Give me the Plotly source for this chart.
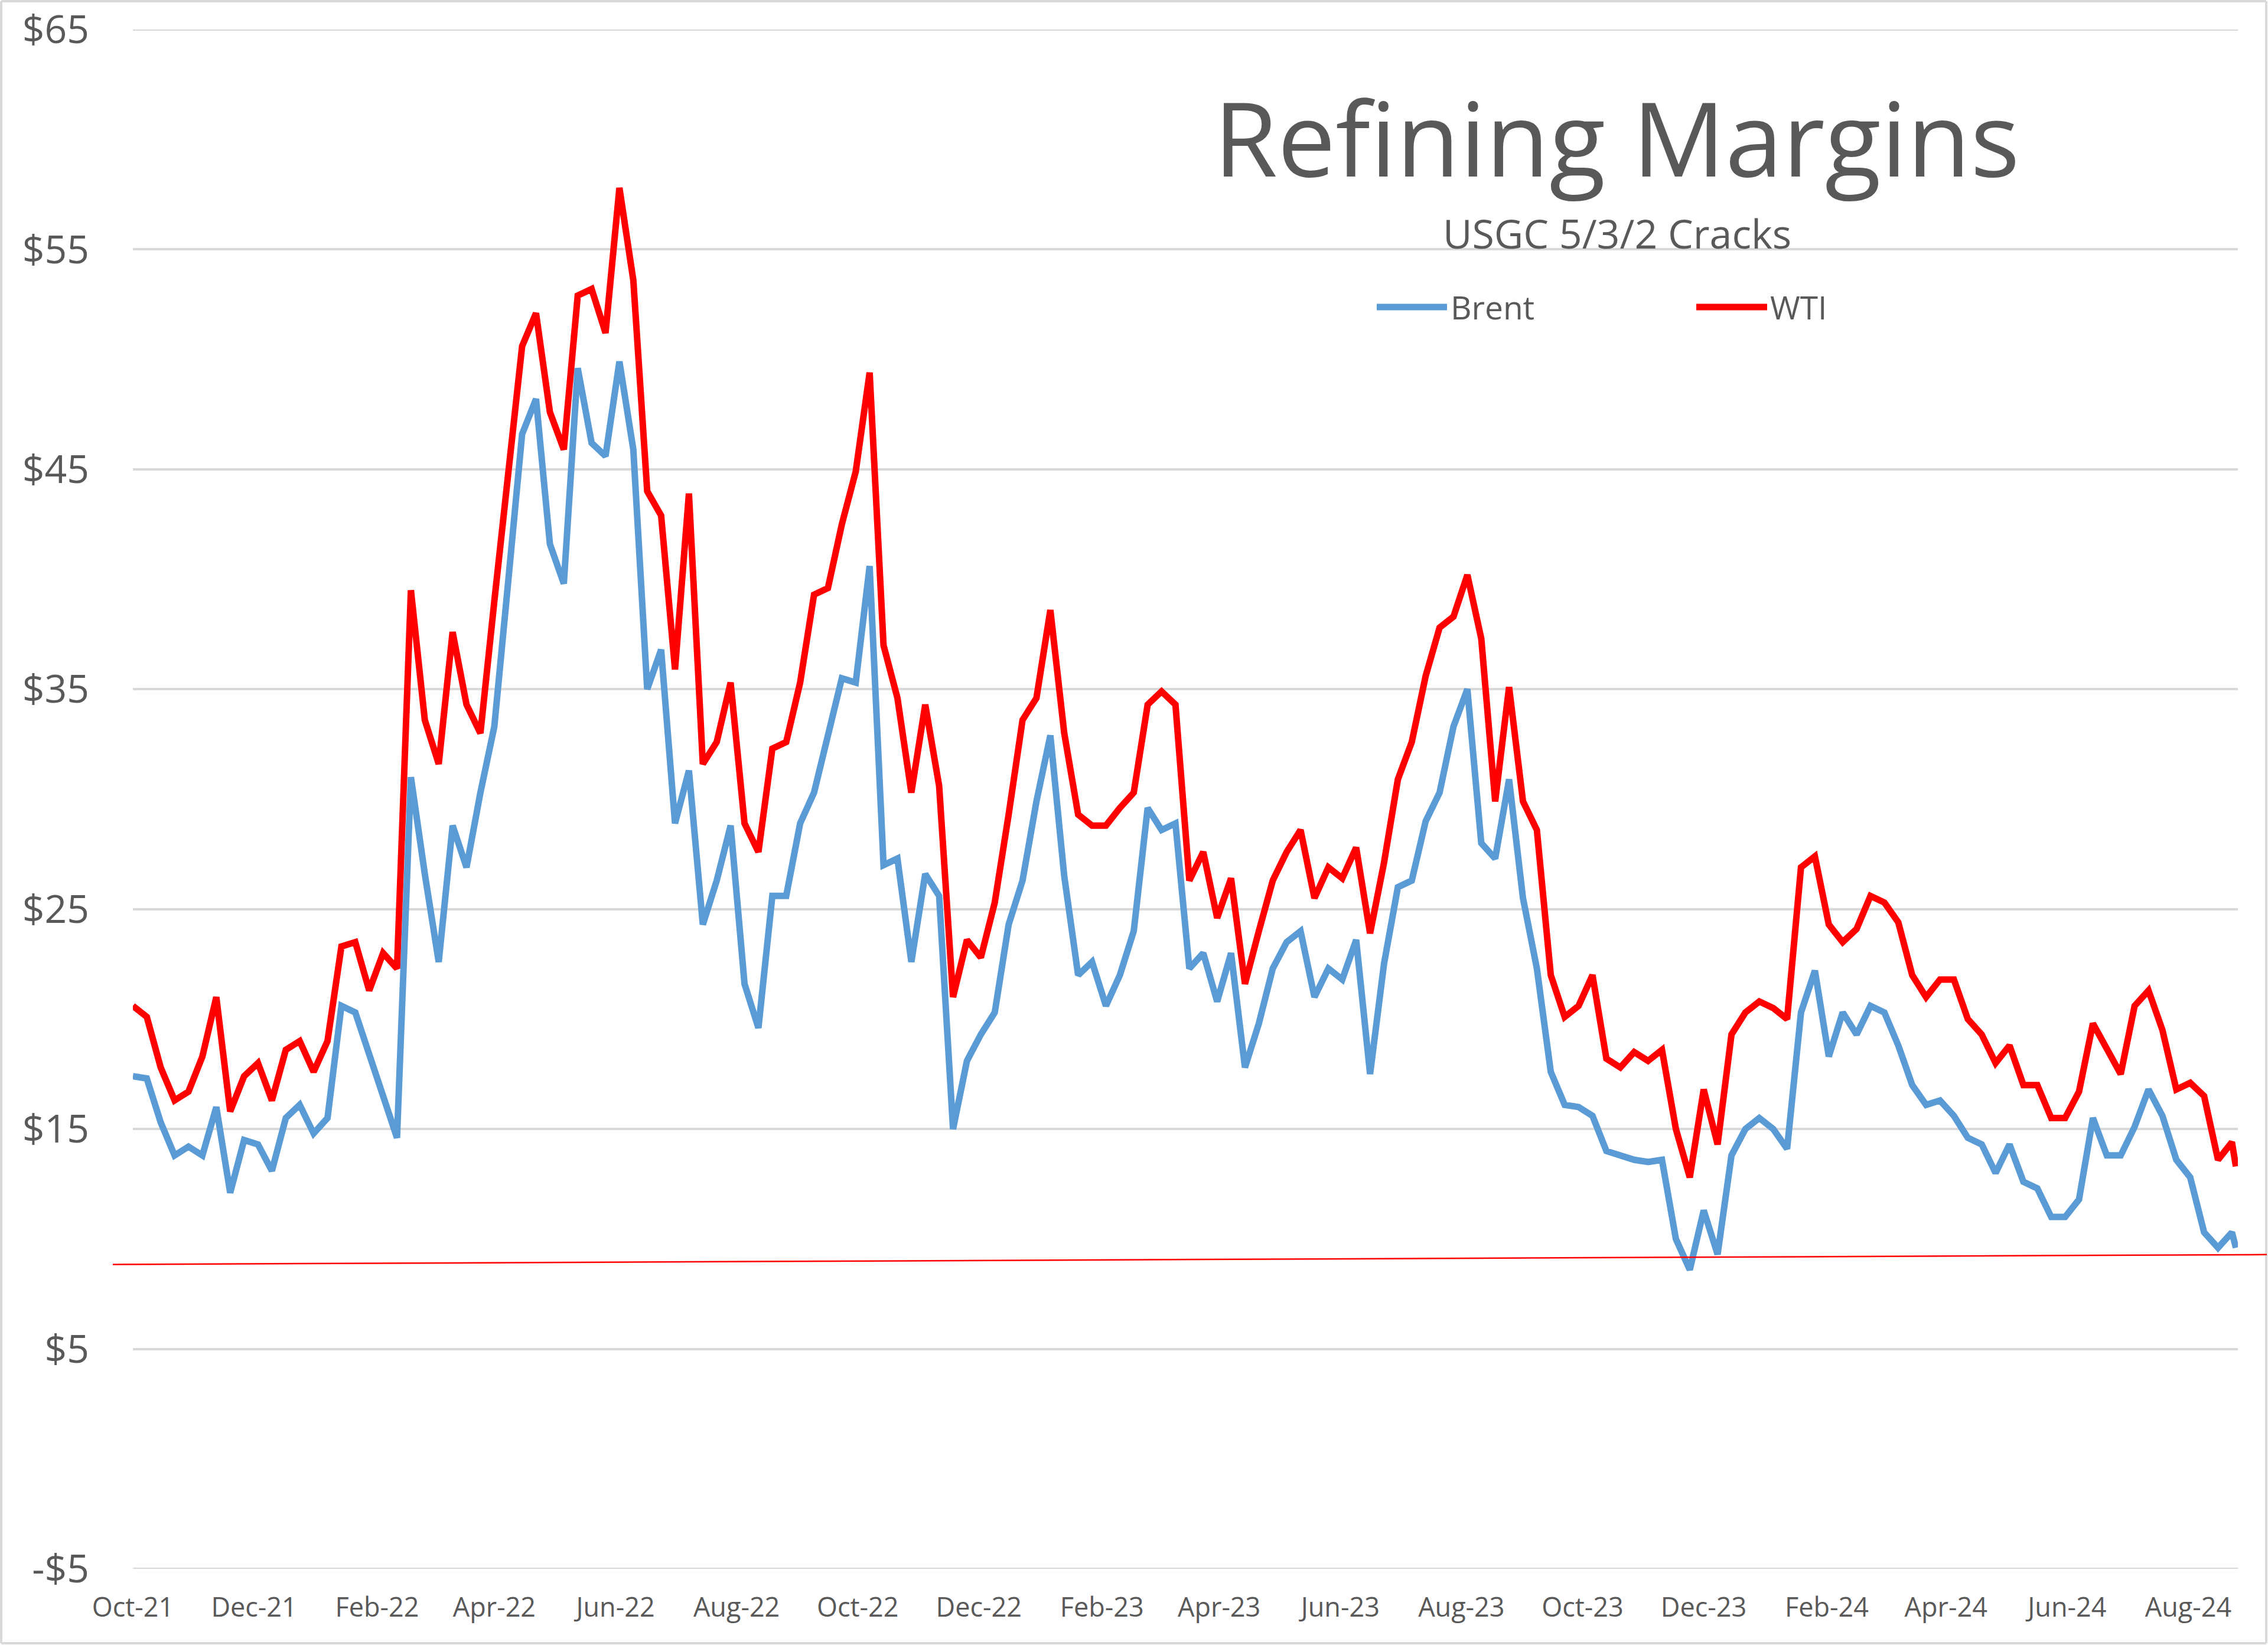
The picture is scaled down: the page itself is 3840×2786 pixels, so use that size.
import plotly.graph_objects as go

dates = [
    "2021-10-01", "2021-10-08", "2021-10-15", "2021-10-22", "2021-10-29",
    "2021-11-05", "2021-11-12", "2021-11-19", "2021-11-26",
    "2021-12-03", "2021-12-10", "2021-12-17", "2021-12-24", "2021-12-31",
    "2022-01-07", "2022-01-14", "2022-01-21", "2022-01-28",
    "2022-02-04", "2022-02-11", "2022-02-18", "2022-02-25",
    "2022-03-04", "2022-03-11", "2022-03-18", "2022-03-25",
    "2022-04-01", "2022-04-08", "2022-04-15", "2022-04-22", "2022-04-29",
    "2022-05-06", "2022-05-13", "2022-05-20", "2022-05-27",
    "2022-06-03", "2022-06-10", "2022-06-17", "2022-06-24",
    "2022-07-01", "2022-07-08", "2022-07-15", "2022-07-22", "2022-07-29",
    "2022-08-05", "2022-08-12", "2022-08-19", "2022-08-26",
    "2022-09-02", "2022-09-09", "2022-09-16", "2022-09-23", "2022-09-30",
    "2022-10-07", "2022-10-14", "2022-10-21", "2022-10-28",
    "2022-11-04", "2022-11-11", "2022-11-18", "2022-11-25",
    "2022-12-02", "2022-12-09", "2022-12-16", "2022-12-23", "2022-12-30",
    "2023-01-06", "2023-01-13", "2023-01-20", "2023-01-27",
    "2023-02-03", "2023-02-10", "2023-02-17", "2023-02-24",
    "2023-03-03", "2023-03-10", "2023-03-17", "2023-03-24", "2023-03-31",
    "2023-04-07", "2023-04-14", "2023-04-21", "2023-04-28",
    "2023-05-05", "2023-05-12", "2023-05-19", "2023-05-26",
    "2023-06-02", "2023-06-09", "2023-06-16", "2023-06-23", "2023-06-30",
    "2023-07-07", "2023-07-14", "2023-07-21", "2023-07-28",
    "2023-08-04", "2023-08-11", "2023-08-18", "2023-08-25",
    "2023-09-01", "2023-09-08", "2023-09-15", "2023-09-22", "2023-09-29",
    "2023-10-06", "2023-10-13", "2023-10-20", "2023-10-27",
    "2023-11-03", "2023-11-10", "2023-11-17", "2023-11-24",
    "2023-12-01", "2023-12-08", "2023-12-15", "2023-12-22", "2023-12-29",
    "2024-01-05", "2024-01-12", "2024-01-19", "2024-01-26",
    "2024-02-02", "2024-02-09", "2024-02-16", "2024-02-23",
    "2024-03-01", "2024-03-08", "2024-03-15", "2024-03-22", "2024-03-29",
    "2024-04-05", "2024-04-12", "2024-04-19", "2024-04-26",
    "2024-05-03", "2024-05-10", "2024-05-17", "2024-05-24", "2024-05-31",
    "2024-06-07", "2024-06-14", "2024-06-21", "2024-06-28",
    "2024-07-05", "2024-07-12", "2024-07-19", "2024-07-26",
    "2024-08-02", "2024-08-09", "2024-08-16", "2024-08-23", "2024-08-25",
]

brent = [
    17.4, 17.3, 15.3, 13.8, 14.2,
    13.8, 16.0, 12.1, 14.5,
    14.3, 13.1, 15.5, 16.1, 14.8,
    15.5, 20.6, 20.3, 18.3,
    16.5, 14.6, 31.0, 26.6,
    22.6, 28.8, 26.9, 30.3,
    33.3, 39.9, 46.6, 48.2, 41.6,
    39.8, 49.6, 46.2, 45.6,
    49.9, 45.9, 35.0, 36.8,
    28.9, 31.3, 24.3, 26.3, 28.8,
    21.6, 19.6, 25.6, 25.6,
    28.9, 30.3, 33.0, 35.5, 35.3,
    40.6, 27.0, 27.3, 22.6,
    26.6, 25.6, 15.0, 18.1,
    19.3, 20.3, 24.3, 26.3, 29.9,
    32.9, 26.5, 22.0, 22.6,
    20.6, 22.0, 24.0, 29.6,
    28.6, 28.9, 22.3, 23.0, 20.8,
    23.0, 17.8, 19.8, 22.3,
    23.5, 24.0, 21.0, 22.3,
    21.8, 23.6, 17.5, 22.5, 26.0,
    26.3, 29.0, 30.3, 33.3,
    35.0, 28.0, 27.3, 30.9,
    25.5, 22.3, 17.6, 16.1, 16.0,
    15.6, 14.0, 13.8, 13.6,
    13.5, 13.6, 10.0, 8.6,
    11.3, 9.3, 13.8, 15.0, 15.5,
    15.0, 14.1, 20.3, 22.2,
    18.3, 20.3, 19.3, 20.6,
    20.3, 18.8, 17.0, 16.1, 16.3,
    15.6, 14.6, 14.3, 13.0,
    14.3, 12.6, 12.3, 11.0, 11.0,
    11.8, 15.5, 13.8, 13.8,
    15.1, 16.8, 15.6, 13.6,
    12.8, 10.3, 9.6, 10.3, 9.6,
]

wti = [
    20.6, 20.1, 17.8, 16.3, 16.7,
    18.3, 21.0, 15.8, 17.4,
    18.0, 16.3, 18.6, 19.0, 17.6,
    19.0, 23.3, 23.5, 21.3,
    23.0, 22.3, 39.5, 33.6,
    31.6, 37.6, 34.3, 33.0,
    39.0, 44.6, 50.6, 52.1, 47.6,
    45.9, 52.9, 53.2, 51.2,
    57.8, 53.6, 44.0, 42.9,
    35.9, 43.9, 31.6, 32.6, 35.3,
    28.9, 27.6, 32.3, 32.6,
    35.3, 39.3, 39.6, 42.5, 44.9,
    49.4, 37.0, 34.6, 30.3,
    34.3, 30.6, 21.0, 23.6,
    22.8, 25.3, 29.3, 33.6, 34.6,
    38.6, 33.0, 29.3, 28.8,
    28.8, 29.6, 30.3, 34.3,
    34.9, 34.3, 26.3, 27.6, 24.6,
    26.4, 21.6, 24.0, 26.3,
    27.6, 28.6, 25.5, 26.9,
    26.4, 27.8, 23.9, 27.1, 30.9,
    32.6, 35.6, 37.8, 38.3,
    40.2, 37.3, 29.9, 35.1,
    29.9, 28.6, 22.0, 20.1, 20.6,
    22.0, 18.2, 17.8, 18.5,
    18.1, 18.6, 15.0, 12.8,
    16.8, 14.3, 19.3, 20.3, 20.8,
    20.5, 20.0, 26.9, 27.4,
    24.3, 23.5, 24.1, 25.6,
    25.3, 24.4, 22.0, 21.0, 21.8,
    21.8, 20.0, 19.3, 18.0,
    18.8, 17.0, 17.0, 15.5, 15.5,
    16.7, 19.8, 18.6, 17.5,
    20.6, 21.3, 19.5, 16.8,
    17.1, 16.5, 13.6, 14.4, 13.3,
]

y_tick_vals = [-5, 5, 15, 25, 35, 45, 55, 65]
y_tick_text = ["-$5", "$5", "$15", "$25", "$35", "$45", "$55", "$65"]

trend_start = 8.84
trend_end = 9.29

TEXT = "#595959"
GRID = "#D9D9D9"
FONT = "Open Sans"

fig = go.Figure()
fig.add_trace(go.Scatter(x=dates, y=brent, name="Brent", mode="lines",
                         line=dict(color="#5B9BD5", width=11)))
fig.add_trace(go.Scatter(x=dates, y=wti, name="WTI", mode="lines",
                         line=dict(color="#FF0000", width=11)))

# the page body margin is removed by a post script, so the figure sits at (0, 0)
W, H = 3840, 2786
PX0, PX1 = 225, 3789      # plot area left/right
PY0, PY1 = 50, 2657       # plot area top/bottom
L, T, R, B = PX0, PY0, W - PX1, H - PY1
pw, ph = PX1 - PX0, PY1 - PY0

def px(X):
    return (X - PX0) / pw

def py(Y):
    return (PY1 - Y) / ph

FL, FR, FT, FB = 2, W - 3, 2, H - 3   # frame edges
frame = dict(color=GRID, width=4)

shapes = [
    # top / bottom gridlines at the axis limits
    dict(type="line", xref="paper", yref="y", x0=0, x1=1, y0=65, y1=65,
         line=dict(color=GRID, width=4), layer="below"),
    dict(type="line", xref="paper", yref="y", x0=0, x1=1, y0=-5, y1=-5,
         line=dict(color=GRID, width=4), layer="below"),
    # outer frame
    dict(type="line", xref="paper", yref="paper", x0=px(FL), x1=px(FR),
         y0=py(FT), y1=py(FT), line=frame),
    dict(type="line", xref="paper", yref="paper", x0=px(FL), x1=px(FR),
         y0=py(FB), y1=py(FB), line=frame),
    dict(type="line", xref="paper", yref="paper", x0=px(FL), x1=px(FL),
         y0=py(FT), y1=py(FB), line=frame),
    dict(type="line", xref="paper", yref="paper", x0=px(FR), x1=px(FR),
         y0=py(FT), y1=py(FB), line=frame),
    # thin red reference line
    dict(type="line", xref="paper", yref="y",
         x0=px(191), x1=px(3838), y0=trend_start, y1=trend_end,
         line=dict(color="#FF0000", width=2.5), layer="above"),
    # legend keys
    dict(type="line", xref="paper", yref="paper",
         x0=px(2331), x1=px(2450), y0=py(520), y1=py(520),
         line=dict(color="#5B9BD5", width=11)),
    dict(type="line", xref="paper", yref="paper",
         x0=px(2872), x1=px(2992), y0=py(520), y1=py(520),
         line=dict(color="#FF0000", width=11)),
]

annotations = [
    dict(text="Refining Margins", xref="paper", yref="paper",
         x=px(2737), y=py(231), xanchor="center", yanchor="middle",
         showarrow=False, font=dict(family=FONT, size=175, color=TEXT)),
    dict(text="USGC 5/3/2 Cracks", xref="paper", yref="paper",
         x=px(2738), y=py(395), xanchor="center", yanchor="middle",
         showarrow=False, font=dict(family=FONT, size=68, color=TEXT)),
    dict(text="Brent", xref="paper", yref="paper",
         x=px(2454), y=py(520), xanchor="left", yanchor="middle",
         showarrow=False, font=dict(family=FONT, size=55, color=TEXT)),
    dict(text="WTI", xref="paper", yref="paper",
         x=px(2995), y=py(520), xanchor="left", yanchor="middle",
         showarrow=False, font=dict(family=FONT, size=55, color=TEXT)),
]

fig.update_layout(
    width=W, height=H,
    margin=dict(l=L, r=R, t=T, b=B, autoexpand=False),
    paper_bgcolor="white", plot_bgcolor="white",
    showlegend=False,
    shapes=shapes, annotations=annotations,
    font=dict(family=FONT, color=TEXT),
)
fig.update_xaxes(
    type="date", range=["2021-10-01", "2024-08-26"],
    tick0="2021-10-01", dtick="M2", tickformat="%b-%y",
    showgrid=False, zeroline=False, showline=False, ticks="",
    tickfont=dict(family=FONT, size=45, color=TEXT),
    ticklabelstandoff=35, automargin=False,
)
fig.update_yaxes(
    range=[-5, 65], tickvals=y_tick_vals, ticktext=y_tick_text,
    showgrid=True, gridcolor=GRID, gridwidth=4,
    zeroline=False, showline=False, ticks="",
    tickfont=dict(family=FONT, size=66, color=TEXT),
    ticklabelstandoff=73, ticklabeloverflow="allow", automargin=False,
)

fig.write_html(
    "out.html",
    config={"displayModeBar": False},
    post_script="document.body.style.margin='0';document.body.style.overflow='hidden';",
)
